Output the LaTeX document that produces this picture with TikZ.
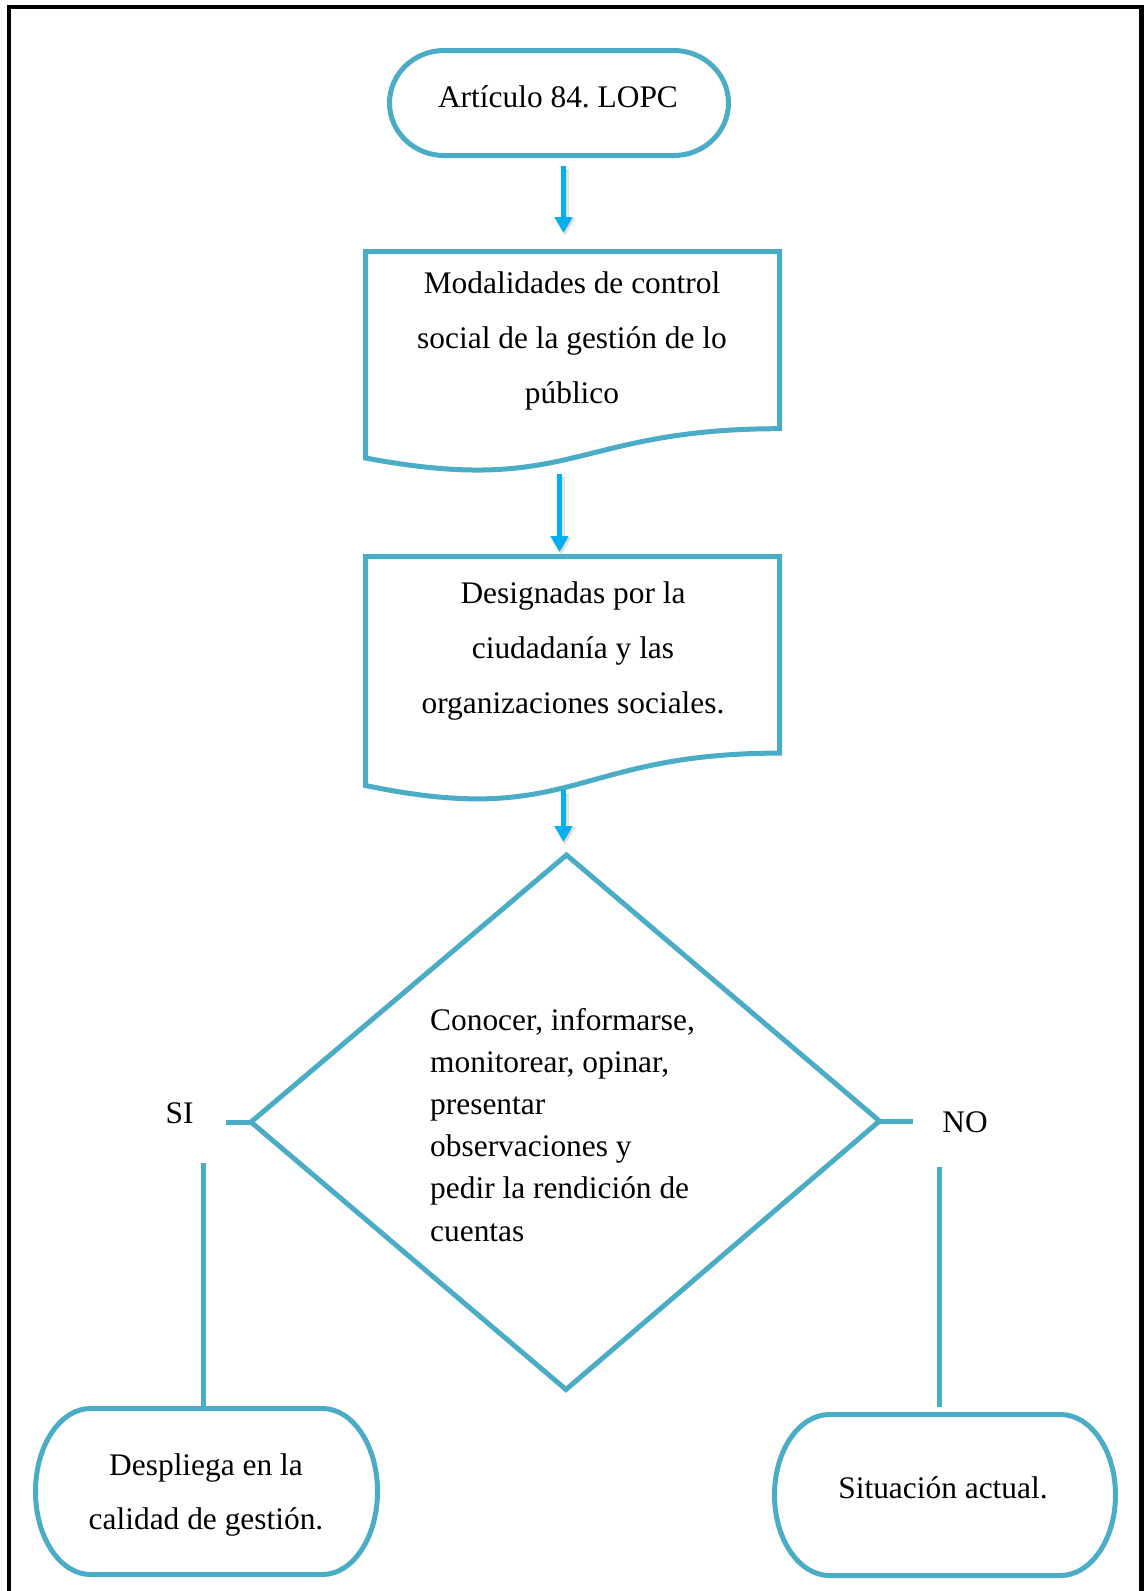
\documentclass[tikz,border=0pt]{standalone}
\usepackage{fontspec}
\setmainfont{Liberation Serif}
\usetikzlibrary{arrows.meta}
\definecolor{tealline}{HTML}{4BACC6}
\definecolor{arrblue}{HTML}{00B0F0}
\frenchspacing
\begin{document}
\begin{tikzpicture}[x=1pt,y=1pt,
  shapeline/.style={draw=tealline,line width=5pt},
  flowarrow/.style={draw=arrblue,line width=5pt,-{Triangle[width=17pt,length=16pt]}},
  arrshadow/.style={draw=black,opacity=0.12,line width=7pt,-{Triangle[width=20pt,length=18pt]}},
  txt/.style={inner sep=0pt,font=\fontsize{31.4}{55}\selectfont},
]
\useasboundingbox (0,0) rectangle (1144,-1591);
% frame
\draw[line width=4.5pt] (8.8,-1600) -- (8.8,-7) -- (1141.5,-7) -- (1141.5,-1600);

% top terminator
\draw[shapeline] (444.1,-50.5) -- (673.9,-50.5)
  arc[start angle=90,end angle=-90,x radius=54.6,y radius=52.5]
  -- (444.1,-155.5)
  arc[start angle=270,end angle=90,x radius=54.6,y radius=52.5] -- cycle;
\node[txt,anchor=base] (t1) at (558,-107) {Artículo 84. LOPC};

% arrow 1
\coordinate (a1s) at (563.5,-166);
\coordinate (a1e) at (563.5,-233);
\draw[arrshadow] ([shift={(1.5,-3)}]a1s) -- ([shift={(1.5,-3)}]a1e);
\draw[flowarrow] (a1s) -- (a1e);

% document box 2 (base anchor = last line baseline)
\draw[shapeline] (365.5,-251.5) -- (779.5,-251.5) -- (779.5,-428.7)
  .. controls (572.5,-428.7) and (572.5,-497) .. (365.5,-458) -- cycle;
\node[txt,anchor=base,align=center] (b2) at (572,-403)
  {Modalidades de control\\social de la gestión de lo\\público};

% arrow 2
\coordinate (a2s) at (559.5,-474);
\coordinate (a2e) at (559.5,-552);
\draw[arrshadow] ([shift={(1.5,-3)}]a2s) -- ([shift={(1.5,-3)}]a2e);
\draw[flowarrow] (a2s) -- (a2e);

% document box 3
\draw[shapeline] (365.5,-556.5) -- (779.5,-556.5) -- (779.5,-753.1)
  .. controls (572.5,-753.1) and (572.5,-828.8) .. (365.5,-785.5) -- cycle;
\node[txt,anchor=base,align=center] (b3) at (573,-713)
  {Designadas por la\\ciudadanía y las\\organizaciones sociales.};

% arrow 3
\coordinate (a3s) at (563.5,-790);
\coordinate (a3e) at (563.5,-842);
\draw[arrshadow] ([shift={(1.5,-3)}]a3s) -- ([shift={(1.5,-3)}]a3e);
\draw[flowarrow] (a3s) -- (a3e);

% diamond
\coordinate (dt) at (566.5,-855);
\coordinate (dr) at (879.5,-1121);
\coordinate (db) at (566,-1389.5);
\coordinate (dl) at (251,-1122);
\draw[shapeline] (dt) -- (dr) -- (db) -- (dl) -- cycle;
\node[txt,anchor=base west,align=left,font=\fontsize{31.4}{42.2}\selectfont] (dtext) at (430,-1241)
  {Conocer, informarse,\\monitorear, opinar,\\presentar\\observaciones y\\pedir la rendición de\\cuentas};

% SI branch
\node[txt,anchor=base] (si) at (179.5,-1123) {SI};
\coordinate (siend) at (226,-1122);
\draw[shapeline] (dl) -- (siend);
\coordinate (sivs) at (203,-1163);
\coordinate (sive) at (203,-1408.5);
\draw[shapeline] (sivs) -- (sive);

% NO branch
\node[txt,anchor=base] (no) at (965,-1132.7) {NO};
\coordinate (noend) at (913,-1121);
\draw[shapeline] (dr) -- (noend);
\coordinate (novs) at (939,-1167);
\coordinate (nove) at (939,-1407);
\draw[shapeline] (novs) -- (nove);

% bottom-left terminator
\draw[shapeline] (90.5,-1408.5) -- (322.5,-1408.5)
  arc[start angle=90,end angle=-90,x radius=55,y radius=83]
  -- (90.5,-1574.5)
  arc[start angle=270,end angle=90,x radius=55,y radius=83] -- cycle;
\node[txt,anchor=base,align=center,font=\fontsize{31.4}{54}\selectfont] (bl) at (206,-1529.5)
  {Despliega en la\\calidad de gestión.};

% bottom-right terminator
\draw[shapeline] (829.5,-1414.5) -- (1060.5,-1414.5)
  arc[start angle=90,end angle=-90,x radius=55,y radius=80.5]
  -- (829.5,-1575.5)
  arc[start angle=270,end angle=90,x radius=55,y radius=80.5] -- cycle;
\node[txt,anchor=base] (br) at (943,-1498) {Situación actual.};
\end{tikzpicture}
\end{document}
